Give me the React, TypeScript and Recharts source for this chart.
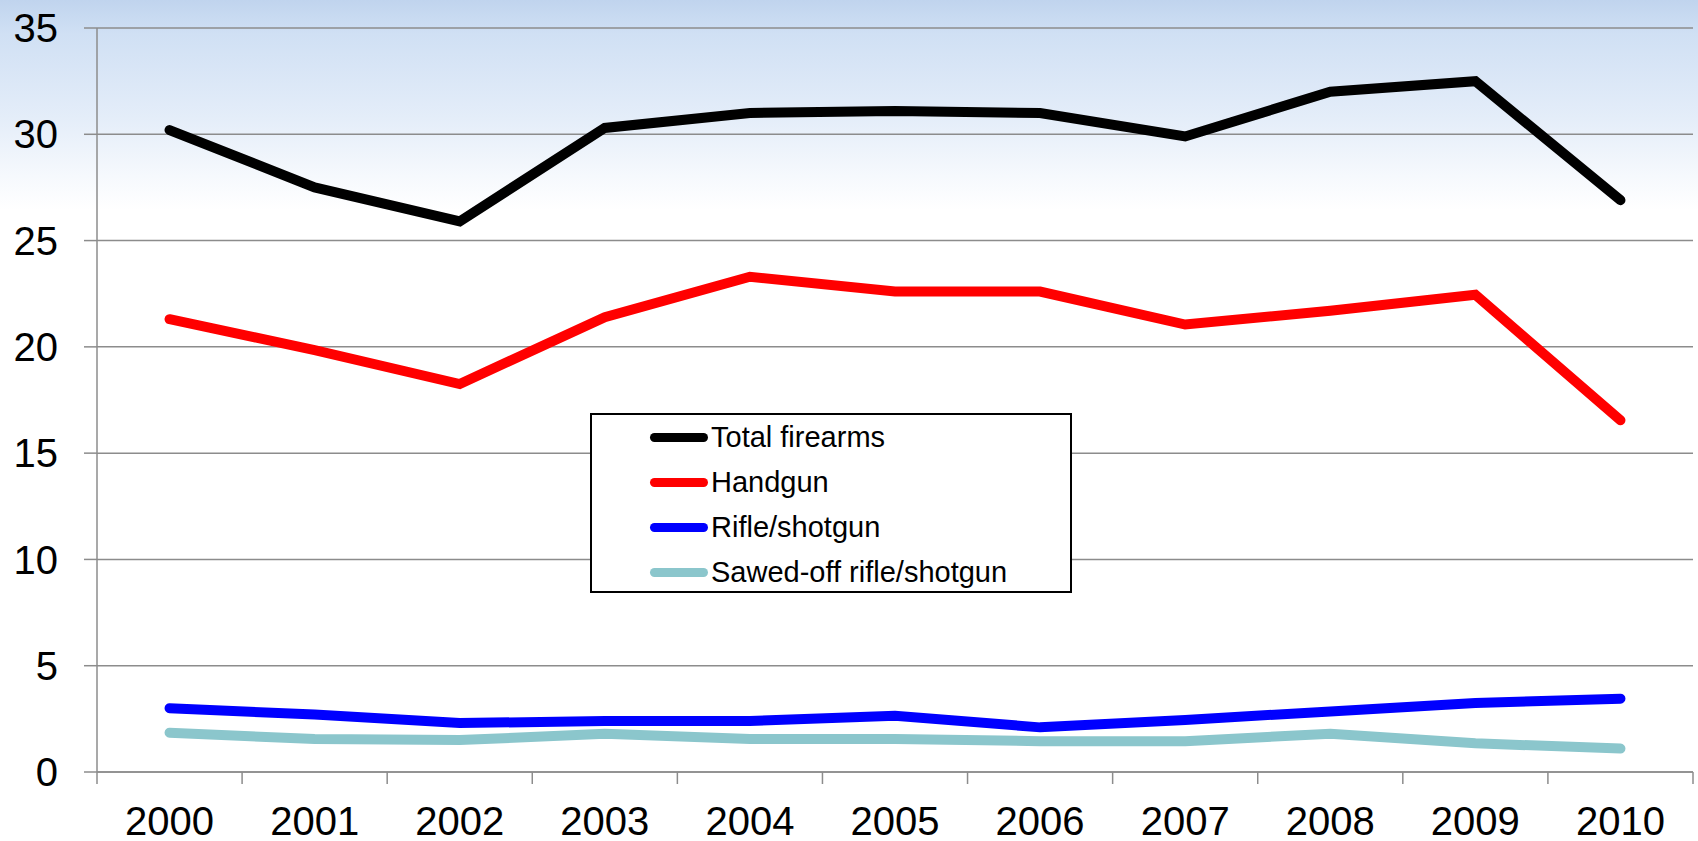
import React from 'react';
import { LineChart, Line, XAxis, YAxis, CartesianGrid, Legend } from 'recharts';

const years = ['2000', '2001', '2002', '2003', '2004', '2005', '2006', '2007', '2008', '2009', '2010'];
const totalFirearms = [30.2, 27.5, 25.9, 30.3, 31.0, 31.1, 31.0, 29.9, 32.0, 32.5, 26.9];
const handgun = [21.3, 19.85, 18.25, 21.4, 23.3, 22.6, 22.6, 21.05, 21.7, 22.45, 16.55];
const rifleShotgun = [3.0, 2.7, 2.3, 2.4, 2.4, 2.65, 2.1, 2.45, 2.85, 3.25, 3.45];
const sawedOff = [1.85, 1.55, 1.5, 1.8, 1.55, 1.55, 1.45, 1.45, 1.8, 1.35, 1.1];
const yTicks = [0, 5, 10, 15, 20, 25, 30, 35];

const seriesNames = ['Total firearms', 'Handgun', 'Rifle/shotgun', 'Sawed-off rifle/shotgun'];
const seriesKeys = ['total', 'handgun', 'rifle', 'sawed'];
const seriesColors = ['#000000', '#ff0000', '#0000ff', '#8bc6cc'];

const data = years.map((year, i) => ({
  x: i,
  year,
  total: totalFirearms[i],
  handgun: handgun[i],
  rifle: rifleShotgun[i],
  sawed: sawedOff[i],
}));

const boundaryTicks = years.map((_, i) => i - 0.5).concat(years.length - 0.5);

const W = 1698;
const H = 841;
const M = { top: 28, right: 5, left: 0, bottom: 0 };
const Y_W = 97;
const PLOT_W = W - M.left - M.right - Y_W;
const HALF = PLOT_W / years.length / 2;
const FONT = '"Liberation Sans", Arial, sans-serif';

const XTick = (props: any) => {
  const { x, y, payload } = props;
  const i = Math.round(payload.value + 0.5);
  if (i < 0 || i >= years.length) return <g />;
  return (
    <text x={x + HALF} y={y} dy="0.71em" textAnchor="middle" fontSize={40} fill="#000" fontFamily={FONT}>
      {years[i]}
    </text>
  );
};

const renderLegend = (props: any) => {
  const payload = [...(props.payload || [])].sort(
    (a: any, b: any) => seriesNames.indexOf(a.value) - seriesNames.indexOf(b.value)
  );
  return (
    <div
      style={{
        boxSizing: 'border-box',
        width: 482,
        height: 180,
        border: '2px solid #000',
        background: '#fff',
        fontFamily: FONT,
      }}
    >
      {payload.map((entry: any, idx: number) => (
        <div key={idx} style={{ height: 45, display: 'flex', alignItems: 'center' }}>
          <div style={{ marginLeft: 58, width: 58, height: 9, borderRadius: 4.5, background: entry.color }} />
          <span style={{ marginLeft: 3, fontSize: 29, color: '#000', lineHeight: '45px' }}>{entry.value}</span>
        </div>
      ))}
    </div>
  );
};

export default function App() {
  return (
    <div
      style={{
        position: 'absolute',
        left: 0,
        top: 0,
        width: W,
        height: H,
        background:
          'linear-gradient(to bottom, #c0d4ee 0%, #d0e0f4 4%, #e4edf9 14%, #f6f9fd 21%, #ffffff 25%, #ffffff 100%)',
      }}
    >
      <LineChart width={W} height={H} data={data} margin={M}>
        <CartesianGrid vertical={false} stroke="#8c8c8c" strokeWidth={1.5} />
        <XAxis
          dataKey="x"
          type="number"
          domain={[-0.5, years.length - 0.5]}
          ticks={boundaryTicks}
          interval={0}
          height={69}
          tickSize={12}
          tickMargin={23}
          stroke="#8c8c8c"
          strokeWidth={1.5}
          tick={<XTick />}
        />
        <YAxis
          type="number"
          domain={[0, 35]}
          ticks={yTicks}
          interval={0}
          width={Y_W}
          tickSize={13}
          tickMargin={26}
          stroke="#8c8c8c"
          strokeWidth={1.5}
          tick={{ fontSize: 40, fill: '#000', fontFamily: FONT }}
        />
        {seriesKeys.map((k, i) => (
          <Line
            key={k}
            dataKey={k}
            name={seriesNames[i]}
            stroke={seriesColors[i]}
            strokeWidth={10}
            strokeLinecap="round"
            strokeLinejoin="miter"
            dot={false}
            activeDot={false}
            isAnimationActive={false}
            type="linear"
          />
        ))}
        <Legend
          verticalAlign="middle"
          align="center"
          layout="horizontal"
          itemSorter={null as any}
          wrapperStyle={{ left: 590, top: 413, width: 482, height: 180 }}
          content={renderLegend}
        />
      </LineChart>
    </div>
  );
}
